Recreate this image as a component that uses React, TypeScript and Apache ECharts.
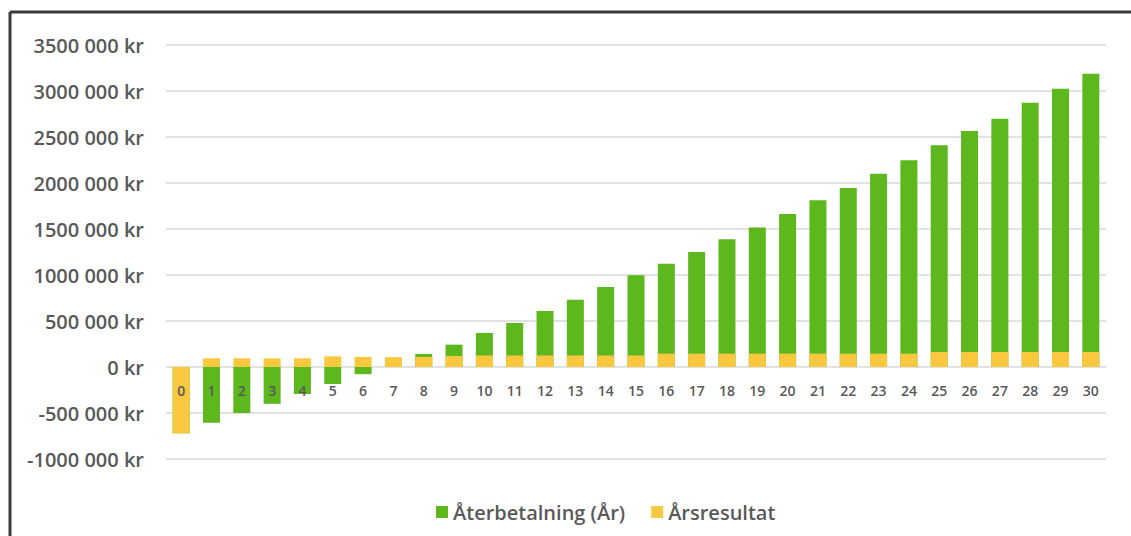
import React, { useEffect, useRef } from "react";
import * as echarts from "echarts";

const years = Array.from({ length: 31 }, (_, i) => String(i));
const aterbetalning = [
  -720000, -605000, -500000, -400000, -293000, -185000, -78000, 30000, 142000, 243000,
  370000, 478000, 609000, 732000, 870000, 997000, 1123000, 1250000, 1388000, 1515000,
  1663000, 1812000, 1946000, 2101000, 2247000, 2410000, 2565000, 2699000, 2873000, 3025000,
  3188000,
];
const arsresultat = [
  -720000, 95000, 95000, 95000, 95000, 115000, 110000, 107000, 110000, 120000,
  125000, 125000, 125000, 125000, 125000, 125000, 145000, 145000, 145000, 145000,
  145000, 145000, 145000, 145000, 145000, 163000, 163000, 163000, 163000, 163000,
  163000,
];
const seriesNames = ["Återbetalning (År)", "Årsresultat"];

export default function App() {
  const ref = useRef<HTMLDivElement>(null);
  useEffect(() => {
    if (!ref.current) return;
    const chart = echarts.init(ref.current, null, { renderer: "svg" });
    const font = "'Open Sans', 'Liberation Sans', sans-serif";
    chart.setOption({
      animation: false,
      backgroundColor: "#ffffff",
      textStyle: { fontFamily: font },
      grid: { left: 166, right: 25, top: 45, bottom: 77, containLabel: false },
      graphic: [
        { type: "line", shape: { x1: 10, y1: 12, x2: 1131, y2: 12 }, style: { stroke: "#3a3a3a", lineWidth: 3 } },
        { type: "line", shape: { x1: 10, y1: 12, x2: 10, y2: 536 }, style: { stroke: "#3a3a3a", lineWidth: 3 } },
      ],
      legend: {
        bottom: 9,
        left: 431,
        icon: "rect",
        itemWidth: 12,
        itemHeight: 12,
        itemGap: 26,
        textStyle: { color: "#595959", fontSize: 20, fontFamily: font, fontWeight: 600 },
        data: seriesNames,
      },
      xAxis: {
        type: "category",
        data: years,
        z: 10,
        position: "bottom",
        offset: -92,
        axisLine: { show: false, onZero: false },
        axisTick: { show: false },
        axisLabel: { color: "#595959", fontSize: 14, fontWeight: 600, margin: 16, fontFamily: font },
      },
      yAxis: {
        type: "value",
        min: -1000000,
        max: 3500000,
        interval: 500000,
        axisLine: { show: false },
        axisTick: { show: false },
        splitLine: { lineStyle: { color: "#d9d9d9", width: 1.5 } },
        axisLabel: {
          color: "#595959",
          fontSize: 20,
          fontWeight: 600,
          margin: 22,
          fontFamily: font,
          formatter: (v: number) => (v === 0 ? "0 kr" : `${v / 1000} 000 kr`),
        },
      },
      series: [
        {
          name: seriesNames[0],
          type: "bar",
          data: aterbetalning,
          barWidth: 17,
          barGap: "-100%",
          itemStyle: { color: "#5db81e" },
        },
        {
          name: seriesNames[1],
          type: "bar",
          data: arsresultat,
          barWidth: 17,
          barGap: "-100%",
          itemStyle: { color: "#f9c83e" },
        },
      ],
    });
    return () => chart.dispose();
  }, []);
  return (
    <div style={{ position: "fixed", left: 0, top: 0, width: 1131, height: 536, background: "#fff" }}>
      <div ref={ref} style={{ width: 1131, height: 536 }} />
    </div>
  );
}
